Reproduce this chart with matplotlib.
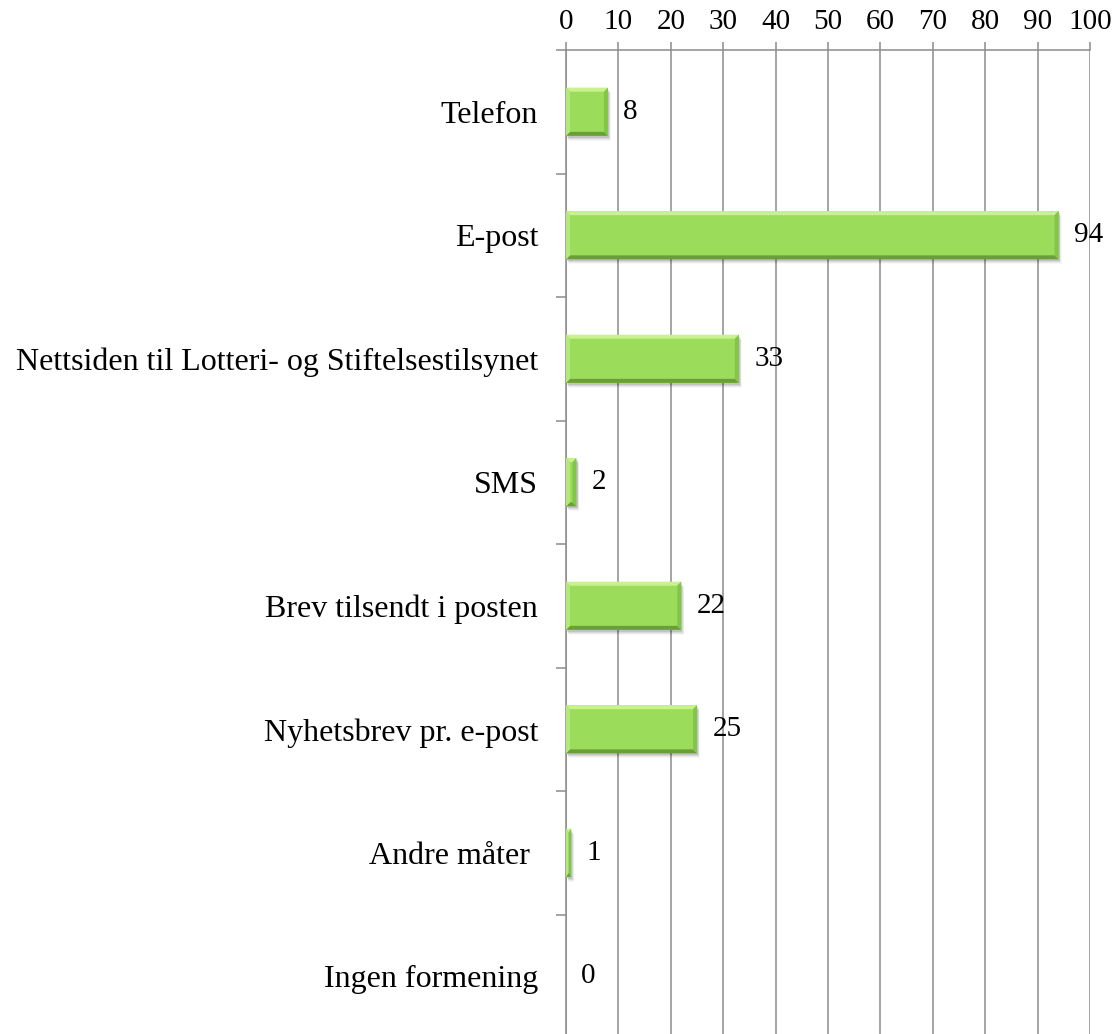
import matplotlib
matplotlib.use("Agg")
import matplotlib.pyplot as plt
from matplotlib.patches import Polygon, Rectangle

categories = [
    "Telefon",
    "E-post",
    "Nettsiden til Lotteri- og Stiftelsestilsynet",
    "SMS",
    "Brev tilsendt i posten",
    "Nyhetsbrev pr. e-post",
    "Andre måter ",
    "Ingen formening",
]
values = [8, 94, 33, 2, 22, 25, 1, 0]
x_ticks = list(range(0, 101, 10))

FACE = "#9bdd5b"
LIGHT = "#c9f28f"
SIDE_LIGHT = "#b4e87a"
SIDE_DARK = "#82c54a"
DARK = "#6a9f38"
GRID = "#8c8c8c"

plt.rcParams["font.family"] = ["Liberation Serif", "DejaVu Serif"]

fig = plt.figure(figsize=(11.13, 10.34), dpi=100)
ax = fig.add_axes([566 / 1113, -4 / 1034, 524 / 1113, 988 / 1034])

ax.set_xlim(0, 100)
ax.set_ylim(len(categories) - 0.5, -0.5)

# pixel -> data unit conversions for the bevel and shadow
px_x = 100 / 524
px_y = len(categories) / 988
h = 0.39
bev_x = 4 * px_x
bev_y = 4 * px_y

for i, v in enumerate(values):
    if v <= 0:
        continue
    y0, y1 = i - h / 2, i + h / 2
    # soft drop shadow
    for k, a in enumerate([0.10, 0.07, 0.05, 0.03]):
        off = (k + 2)
        ax.add_patch(Rectangle((off * 0.6 * px_x, y0 + off * px_y), v, h,
                               facecolor="black", alpha=a, lw=0, zorder=2))
    ax.barh(i, v, height=h, color=FACE, edgecolor="none", zorder=3)
    bx = min(bev_x, v / 2)
    # bevel edges
    ax.add_patch(Polygon([(0, y0), (v, y0), (v - bx, y0 + bev_y), (bx, y0 + bev_y)],
                         closed=True, facecolor=LIGHT, lw=0, zorder=4))
    ax.add_patch(Polygon([(0, y1), (v, y1), (v - bx, y1 - bev_y), (bx, y1 - bev_y)],
                         closed=True, facecolor=DARK, lw=0, zorder=4))
    ax.add_patch(Polygon([(0, y0), (bx, y0 + bev_y), (bx, y1 - bev_y), (0, y1)],
                         closed=True, facecolor=SIDE_LIGHT, lw=0, zorder=4))
    ax.add_patch(Polygon([(v, y0), (v - bx, y0 + bev_y), (v - bx, y1 - bev_y), (v, y1)],
                         closed=True, facecolor=SIDE_DARK, lw=0, zorder=4))

for i, v in enumerate(values):
    ax.annotate(str(v), xy=(v, i), xytext=(11, 0), textcoords="offset points",
                ha="left", va="center", fontsize=21, zorder=5)

# top value axis with vertical grid
ax.xaxis.tick_top()
ax.set_xticks(x_ticks)
ax.set_xticklabels([str(t) for t in x_ticks], fontsize=21)
ax.tick_params(axis="x", length=5.5, width=1.1, color=GRID, pad=5)
ax.grid(axis="x", color=GRID, linewidth=1.1, zorder=1)
ax.set_axisbelow(True)

# category labels centred, tick marks on the boundaries
ax.set_yticks(range(len(categories)))
ax.set_yticklabels(categories, fontsize=23)
ax.set_yticks([i - 0.5 for i in range(len(categories) + 1)], minor=True)
ax.tick_params(axis="y", which="major", length=0, pad=20)
ax.tick_params(axis="y", which="minor", length=7, width=1.1, color=GRID)

for side in ["right", "bottom"]:
    ax.spines[side].set_visible(False)
ax.spines["top"].set_color(GRID)
ax.spines["top"].set_linewidth(1.1)
ax.spines["left"].set_color(GRID)
ax.spines["left"].set_linewidth(1.1)

fig.savefig("out.png", dpi=100)
